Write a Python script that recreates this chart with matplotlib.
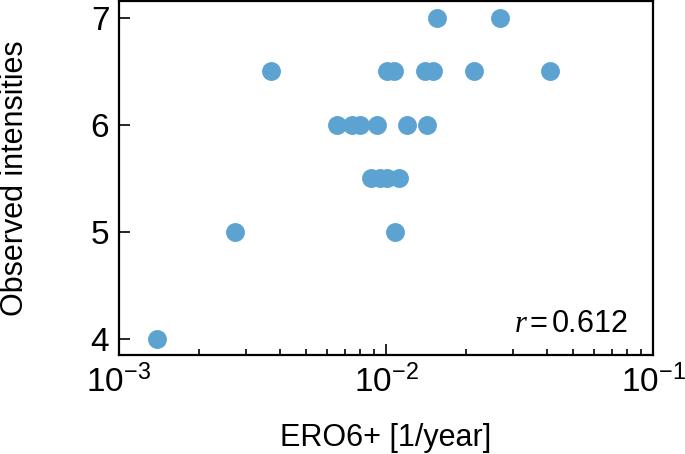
import matplotlib
matplotlib.use('Agg')
import matplotlib.pyplot as plt
from matplotlib.ticker import LogLocator, FixedFormatter, FixedLocator

plt.rcParams['font.family'] = ['Liberation Sans', 'DejaVu Sans']
plt.rcParams['mathtext.fontset'] = 'custom'
plt.rcParams['mathtext.rm'] = 'Liberation Sans'
plt.rcParams['mathtext.it'] = 'Liberation Serif:italic'
plt.rcParams['mathtext.default'] = 'regular'

# ERO6+ rate per point
ero6 = [1.39e-3, 2.73e-3, 1.08e-2,
        8.77e-3, 9.50e-3, 1.006e-2, 1.122e-2,
        6.56e-3, 7.48e-3, 7.99e-3, 9.27e-3, 1.20e-2, 1.42e-2,
        3.72e-3, 1.006e-2, 1.071e-2, 1.40e-2, 1.50e-2, 2.14e-2, 4.11e-2,
        1.549e-2, 2.673e-2]
intensity = [4, 5, 5,
             5.5, 5.5, 5.5, 5.5,
             6, 6, 6, 6, 6, 6,
             6.5, 6.5, 6.5, 6.5, 6.5, 6.5, 6.5,
             7, 7]
r_value = 0.612
x_ticks = [1e-3, 1e-2, 1e-1]
x_ticklabels = ['$10^{-3}$', '$10^{-2}$', '$10^{-1}$']
y_ticks = [4, 5, 6, 7]

fig = plt.figure(figsize=(6.85, 4.54), dpi=100)
ax = fig.add_axes([0.1737, 0.2181, 0.7796, 0.7786])

ax.scatter(ero6, intensity, s=185, color='#5da3d1', linewidths=0, zorder=3)
ax.set_xscale('log')
ax.set_xlim(1e-3, 1e-1)
ax.set_ylim(3.85, 7.15)

ax.xaxis.set_major_locator(FixedLocator(x_ticks))
ax.xaxis.set_major_formatter(FixedFormatter(x_ticklabels))
ax.xaxis.set_minor_locator(LogLocator(base=10, subs=range(2, 10)))
ax.set_yticks(y_ticks)

ax.tick_params(which='both', direction='in', top=False, right=False,
               labelsize=24, width=1.2)
ax.tick_params(which='major', length=8, pad=7)
ax.tick_params(which='minor', length=4.5)
for sp in ax.spines.values():
    sp.set_linewidth(1.6)

ax.set_xlabel('ERO6+ [1/year]', fontsize=22, labelpad=17)
ax.set_ylabel('Observed intensities', fontsize=22, labelpad=44)

ax.text(0.953, 0.065, '$\\it{r}$$\\,$=$\\,$%.3f' % r_value, transform=ax.transAxes,
        ha='right', va='baseline', fontsize=22)

fig.savefig('out.png', dpi=100)
